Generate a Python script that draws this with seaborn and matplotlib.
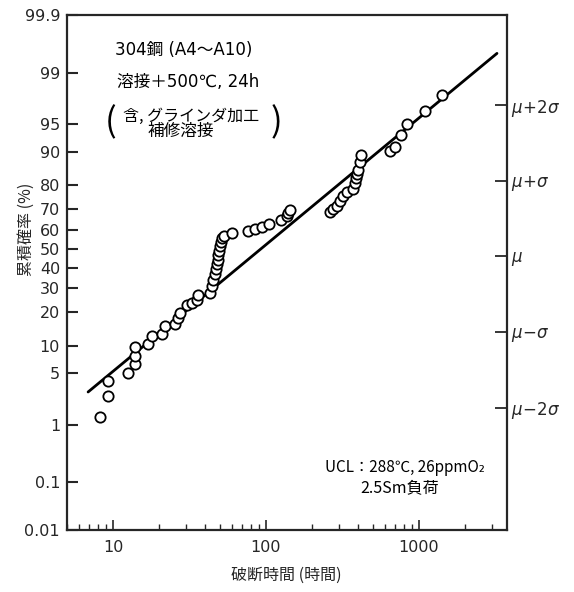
import numpy as np
import pandas as pd
import matplotlib
matplotlib.use("Agg")
import matplotlib.pyplot as plt
import matplotlib.ticker as mticker
import seaborn as sns
from statistics import NormalDist

# ---------------- data ----------------
time_h = [8.2, 9.3, 9.3, 12.6, 13.9, 13.9, 13.9, 16.9, 17.9, 20.8,
          21.9, 25.4, 26.7, 27.4, 30.3, 33.0, 35.7, 36.0,
          43.0, 44.2, 45.3, 46.6, 47.3, 47.7, 48.4, 48.9, 49.6, 50.1,
          50.9, 51.9, 53.2, 59.7,
          76.6, 84.7, 93.7, 104.7, 126, 137.6, 140, 143.6,
          262, 275, 290, 305, 320, 337, 369, 382, 391, 395, 401, 411, 422,
          646, 696, 763, 843, 1106, 1430]
cum_prob = [1.3, 2.6, 4.0, 5.0, 6.3, 7.9, 9.8, 10.4, 12.3, 13.0,
            15.2, 16.0, 18.0, 19.8, 22.7, 23.6, 24.7, 27.1,
            27.9, 30.9, 34.1, 37.0, 39.6, 42.0, 44.2, 46.5, 49.0, 51.2,
            53.3, 55.6, 56.8, 58.2,
            59.4, 60.3, 61.3, 62.8, 64.6, 66.5, 68.2, 69.7,
            68.6, 70.0, 71.5, 73.4, 75.6, 77.2, 78.5, 80.8, 82.5, 83.9, 85.2, 87.3, 89.3,
            90.1, 91.1, 93.4, 95.0, 96.6, 97.9]

fit_time = [6.87, 3250]
fit_prob = [2.91, 99.51]

y_ticks = [0.01, 0.1, 1, 5, 10, 20, 30, 40, 50, 60, 70, 80, 90, 95, 99, 99.9]
y_ticklabels = ["0.01", "0.1", "1", "5", "10", "20", "30", "40", "50",
                "60", "70", "80", "90", "95", "99", "99.9"]
x_ticks = [10, 100, 1000]
x_ticklabels = ["10", "100", "1000"]
sigma_steps = [-2, -1, 0, 1, 2]
sigma_labels = [r"$\mu\!-\!2\sigma$", r"$\mu\!-\!\sigma$", r"$\mu$",
                r"$\mu\!+\!\sigma$", r"$\mu\!+\!2\sigma$"]
sigma_offset = -0.1

# ---------------- style ----------------
sns.set_style("ticks")
plt.rcParams["font.family"] = ["DejaVu Sans", "Noto Sans CJK JP"]
plt.rcParams["mathtext.fontset"] = "dejavusans"
plt.rcParams["axes.linewidth"] = 1.6

ND = NormalDist()
_ppf = np.vectorize(ND.inv_cdf, otypes=[float])
_cdf = np.vectorize(ND.cdf, otypes=[float])


def fwd(p):
    p = np.clip(np.asarray(p, dtype=float), 1e-7, 100 - 1e-7)
    return _ppf(p / 100.0)


def inv(z):
    z = np.asarray(z, dtype=float)
    return _cdf(z) * 100.0


df_pts = pd.DataFrame({"time": time_h, "prob": cum_prob})
df_fit = pd.DataFrame({"time": fit_time, "prob": fit_prob})

fig = plt.figure(figsize=(5.74, 5.92), dpi=100)
ax = fig.add_axes([67 / 574, 1 - 530 / 592, 440 / 574, 515 / 592])
ax.set_xscale("log")
ax.set_yscale("function", functions=(fwd, inv))

sns.lineplot(data=df_fit, x="time", y="prob", color="black", lw=2.0,
             estimator=None, sort=False, ax=ax, zorder=2)
sns.scatterplot(data=df_pts, x="time", y="prob", marker="o", s=55,
                facecolor="white", edgecolor="black", linewidth=1.3,
                ax=ax, zorder=3)

ax.set_xlim(5, 3780)
ax.set_ylim(0.01, 99.9)

ax.yaxis.set_major_locator(mticker.FixedLocator(y_ticks))
ax.yaxis.set_major_formatter(mticker.FixedFormatter(y_ticklabels))
ax.yaxis.set_minor_locator(mticker.NullLocator())
ax.xaxis.set_major_locator(mticker.FixedLocator(x_ticks))
ax.xaxis.set_major_formatter(mticker.FixedFormatter(x_ticklabels))
ax.xaxis.set_minor_locator(mticker.LogLocator(base=10, subs=np.arange(2, 10)))
ax.xaxis.set_minor_formatter(mticker.NullFormatter())

ax.tick_params(axis="y", which="major", direction="in", length=8, width=1.5,
               labelsize=11.5, pad=5, right=False)
ax.tick_params(axis="x", which="major", direction="in", length=7, width=1.2,
               labelsize=11.5, pad=7, top=False)
ax.tick_params(axis="x", which="minor", direction="in", length=4, width=1.0,
               top=False)

ax.set_xlabel("破断時間 (時間)", fontsize=11.5,
              fontfamily=["Noto Sans CJK JP", "DejaVu Sans"])
ax.set_ylabel("累積確率 (%)", fontsize=11.5,
              fontfamily=["Noto Sans CJK JP", "DejaVu Sans"])
ax.xaxis.set_label_coords(0.4995, -0.072)
ax.yaxis.set_label_coords(-0.072, 0.583)

# right sigma axis
ax2 = ax.twinx()
ax2.set_yscale("function", functions=(fwd, inv))
ax2.set_ylim(ax.get_ylim())
sig_pos = [float(inv(k + sigma_offset)) for k in sigma_steps]
ax2.yaxis.set_major_locator(mticker.FixedLocator(sig_pos))
ax2.yaxis.set_major_formatter(mticker.FixedFormatter(sigma_labels))
ax2.yaxis.set_minor_locator(mticker.NullLocator())
ax2.tick_params(axis="y", which="major", direction="in", length=9, width=1.3,
                labelsize=12, pad=3)
for s in ax2.spines.values():
    s.set_visible(False)

for s in ax.spines.values():
    s.set_linewidth(1.6)

# annotations
txt = dict(transform=ax.transAxes, color="black")
jp = ["Noto Sans CJK JP", "DejaVu Sans"]
ax.text(0.109, 0.932, "304鋼 (A4～A10)", fontsize=12, ha="left", va="center", **txt)
ax.text(0.114, 0.870, "溶接＋500℃, 24h", fontsize=12, ha="left", va="center", **txt)
ax.text(0.086, 0.790, "(", fontsize=25, ha="left", va="center", fontfamily=jp, **txt)
ax.text(0.127, 0.803, "含, グラインダ加工", fontsize=11.5, ha="left", va="center",
        fontfamily=jp, **txt)
ax.text(0.259, 0.773, "補修溶接", fontsize=12, ha="center", va="center",
        fontfamily=jp, **txt)
ax.text(0.49, 0.790, ")", fontsize=25, ha="right", va="center", fontfamily=jp, **txt)
ax.text(0.586, 0.122, "UCL：288℃, 26ppmO₂", fontsize=11, ha="left", va="center",
        fontfamily=jp, **txt)
ax.text(0.666, 0.083, "2.5Sm負荷", fontsize=11.5, ha="left", va="center",
        fontfamily=jp, **txt)

fig.savefig("out.png", dpi=100)
